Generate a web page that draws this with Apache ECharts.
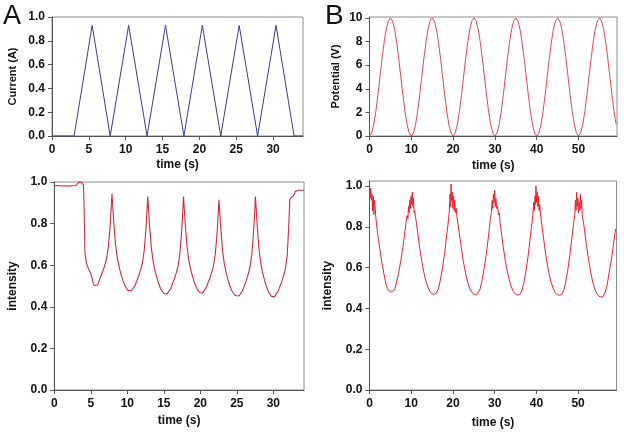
<!DOCTYPE html>
<html>
<head>
<meta charset="utf-8">
<script src="https://cdn.jsdelivr.net/npm/echarts@6/dist/echarts.min.js"></script>
<style>
html,body{margin:0;padding:0;background:#fff;}
#chart{width:624px;height:436px;}
</style>
</head>
<body>
<div id="chart"></div>
<script>
// ---- Panel A, top: current (A) vs time (s)
const tlTime = [0, 3, 5.45, 7.9, 10.4, 12.9, 15.4, 17.9, 20.4, 22.9, 25.4, 27.9, 30.4, 32.85, 34.1];
const tlCurrent = [0, 0, 0.93, 0, 0.93, 0, 0.93, 0, 0.93, 0, 0.93, 0, 0.93, 0, 0];

// ---- Panel B, top: potential (V) vs time (s)
const trTime = [0,0.5,1,1.5,2,2.5,3,3.5,4,4.5,5,5.5,6,6.5,7,7.5,8,8.5,9,9.5,
  10,10.5,11,11.5,12,12.5,13,13.5,14,14.5,15,15.5,16,16.5,17,17.5,18,18.5,19,19.5,
  20,20.5,21,21.5,22,22.5,23,23.5,24,24.5,25,25.5,26,26.5,27,27.5,28,28.5,29,29.5,
  30,30.5,31,31.5,32,32.5,33,33.5,34,34.5,35,35.5,36,36.5,37,37.5,38,38.5,39,39.5,
  40,40.5,41,41.5,42,42.5,43,43.5,44,44.5,45,45.5,46,46.5,47,47.5,48,48.5,49,49.5,
  50,50.5,51,51.5,52,52.5,53,53.5,54,54.5,55,55.5,56,56.5,57,57.5,58,58.5,59];
const trPotential = [0,0.25,0.95,2.05,3.45,5,6.55,7.95,9.05,9.75,10,9.75,9.05,7.95,6.55,5,3.45,2.05,0.95,0.25,
  0,0.25,0.95,2.05,3.45,5,6.55,7.95,9.05,9.75,10,9.75,9.05,7.95,6.55,5,3.45,2.05,0.95,0.25,
  0,0.25,0.95,2.05,3.45,5,6.55,7.95,9.05,9.75,10,9.75,9.05,7.95,6.55,5,3.45,2.05,0.95,0.25,
  0,0.25,0.95,2.05,3.45,5,6.55,7.95,9.05,9.75,10,9.75,9.05,7.95,6.55,5,3.45,2.05,0.95,0.25,
  0,0.25,0.95,2.05,3.45,5,6.55,7.95,9.05,9.75,10,9.75,9.05,7.95,6.55,5,3.45,2.05,0.95,0.25,
  0,0.25,0.95,2.05,3.45,5,6.55,7.95,9.05,9.75,10,9.75,9.05,7.95,6.55,5,3.45,2.05,1.0];

// ---- Panel A, bottom: intensity vs time (s)
const blTime = [0,0.5,1,1.5,2,2.5,3,3.15,3.3,3.5,3.75,3.9,4,4.1,4.2,4.4,4.6,4.8,5,5.1,5.2,5.3,5.45,5.7,5.95,
  6.15,6.4,6.65,6.9,7.15,7.4,7.65,7.9,
  8.15,8.4,8.65,8.9,9.15,9.4,9.65,9.9,10.1,10.3,
  10.55,10.8,11.05,11.3,11.55,11.8,12.05,12.3,12.55,12.8,
  13.05,13.3,13.55,13.8,14.05,14.3,14.55,14.8,15,15.2,
  15.45,15.7,15.95,16.2,16.45,16.7,16.95,17.2,17.45,17.7,
  17.95,18.2,18.45,18.7,18.95,19.2,19.45,19.7,19.9,20.1,
  20.3,20.55,20.8,21.05,21.3,21.55,21.8,22.05,22.3,22.55,
  22.8,23.05,23.3,23.55,23.8,24.05,24.3,24.55,24.8,25,
  25.3,25.55,25.8,26.05,26.3,26.55,26.8,27.05,27.3,27.55,
  27.8,28.05,28.3,28.55,28.8,29.05,29.3,29.55,29.75,29.9,
  30.15,30.4,30.65,30.9,31.15,31.4,31.65,31.9,32.1,32.25,32.4,32.6,32.8,33,33.2,33.5,33.75,34,34.2];
const blIntensity = [0.982,0.983,0.981,0.982,0.980,0.982,0.983,0.992,0.998,1.0,0.999,0.996,0.985,0.85,0.66,0.61,0.59,0.575,0.56,0.545,0.535,0.515,0.503,0.50,0.505,
  0.527,0.549,0.571,0.598,0.629,0.687,0.789,0.945,
  0.804,0.696,0.630,0.588,0.555,0.527,0.503,0.489,0.479,0.475,
  0.477,0.484,0.502,0.525,0.548,0.575,0.607,0.666,0.771,0.93,
  0.789,0.681,0.615,0.573,0.540,0.512,0.488,0.474,0.464,0.46,
  0.462,0.469,0.488,0.512,0.535,0.563,0.596,0.657,0.766,0.93,
  0.791,0.684,0.618,0.577,0.544,0.516,0.493,0.479,0.469,0.465,
  0.467,0.474,0.492,0.515,0.537,0.564,0.596,0.654,0.757,0.915,
  0.776,0.669,0.603,0.562,0.529,0.501,0.478,0.464,0.454,0.45,
  0.452,0.46,0.479,0.503,0.527,0.556,0.589,0.652,0.762,0.93,
  0.785,0.673,0.605,0.561,0.527,0.498,0.474,0.460,0.45,0.445,
  0.448,0.455,0.474,0.497,0.521,0.549,0.583,0.645,0.78,0.915,0.925,0.93,0.935,0.955,0.962,0.96,0.963,0.96,0.96];

// ---- Panel B, bottom: intensity vs time (s)
const brTime = [0,0.15,0.3,0.45,0.6,0.75,0.9,1.05,1.2,1.35,1.5,1.75,2,2.5,3,3.5,4,4.5,5,5.5,6,
  6.5,7,7.5,8,8.5,8.75,9,9.2,9.35,9.5,9.65,9.8,9.95,10.1,10.25,10.4,10.55,10.7,10.85,11,
  11.25,11.5,12,12.5,13,13.5,14,14.5,15,15.5,16,16.5,17,17.5,18,18.5,18.75,19,
  19.15,19.3,19.45,19.55,19.7,19.85,20,20.15,20.3,20.45,20.6,20.8,21,
  21.25,21.5,22,22.5,23,23.5,24,24.5,25,25.5,26,26.5,27,27.5,28,28.5,28.75,29,
  29.2,29.4,29.55,29.7,29.85,30,30.15,30.3,30.5,30.7,30.9,31.1,
  31.3,31.5,32,32.5,33,33.5,34,34.5,35,35.5,36,36.5,37,37.5,38,38.5,38.75,39,
  39.2,39.35,39.5,39.65,39.8,39.9,40.05,40.2,40.35,40.5,40.65,40.8,41,
  41.25,41.5,42,42.5,43,43.5,44,44.5,45,45.5,46,46.5,47,47.5,48,48.5,48.75,49,
  49.2,49.35,49.5,49.65,49.8,49.95,50.1,50.25,50.4,50.55,50.7,50.85,51,51.1,
  51.3,51.5,52,52.5,53,53.5,54,54.5,55,55.5,56,56.5,57,57.5,58,58.5,59];
const brIntensity = [0.975,0.94,0.99,0.93,0.96,0.88,0.95,0.86,0.93,0.90,0.85,0.80,0.76,0.69,0.62,0.565,0.515,0.49,0.482,0.483,0.49,
  0.53,0.576,0.635,0.70,0.78,0.82,0.855,0.84,0.90,0.87,0.93,0.89,0.95,0.91,0.97,0.90,0.94,0.87,0.88,0.85,
  0.82,0.78,0.70,0.635,0.58,0.535,0.505,0.483,0.472,0.47,0.476,0.495,0.54,0.60,0.67,0.76,0.80,0.85,
  0.88,0.96,0.90,1.01,0.93,0.97,0.89,0.95,0.88,0.93,0.87,0.89,0.84,
  0.81,0.77,0.70,0.63,0.575,0.53,0.50,0.48,0.47,0.468,0.475,0.495,0.54,0.60,0.67,0.75,0.80,0.84,
  0.87,0.93,0.89,0.96,0.92,0.98,0.90,0.94,0.89,0.90,0.86,0.87,
  0.82,0.79,0.71,0.64,0.585,0.54,0.505,0.482,0.47,0.465,0.468,0.485,0.525,0.585,0.655,0.74,0.79,0.83,
  0.87,0.92,0.88,0.95,0.91,1.0,0.92,0.97,0.90,0.95,0.88,0.91,0.86,
  0.82,0.78,0.70,0.63,0.575,0.53,0.50,0.478,0.468,0.465,0.468,0.485,0.525,0.585,0.66,0.745,0.79,0.83,
  0.86,0.93,0.88,0.97,0.90,0.94,0.87,0.92,0.88,0.96,0.89,0.93,0.86,0.84,
  0.82,0.79,0.71,0.64,0.58,0.53,0.495,0.472,0.46,0.455,0.46,0.48,0.52,0.585,0.64,0.72,0.79];

// ---- tick labels
const xTicksA = [0, 5, 10, 15, 20, 25, 30];
const xTicksB = [0, 10, 20, 30, 40, 50];
const yTicksFrac = [0, 0.2, 0.4, 0.6, 0.8, 1.0];
const yTicksPot = [0, 2, 4, 6, 8, 10];

function zip(a, b) { return a.map((t, i) => [t, b[i]]); }

const FONT = '"Liberation Sans", Arial, sans-serif';
const axisCol = '#555';

function xAxis(gi, max, ticks, nameGap) {
  return {
    type: 'value', gridIndex: gi, min: 0, max: max,
    name: 'time (s)', nameLocation: 'middle', nameGap: nameGap,
    nameTextStyle: { fontFamily: FONT, fontWeight: 'bold', fontSize: 12, color: '#111' },
    axisLine: { show: true, onZero: false, lineStyle: { color: axisCol, width: 1 } },
    axisTick: { show: true, inside: false, length: 4, customValues: ticks, lineStyle: { color: axisCol } },
    axisLabel: { customValues: ticks, margin: 8, fontFamily: FONT, fontWeight: 'bold', fontSize: 12, color: '#111' },
    splitLine: { show: false }
  };
}
function yAxis(gi, max, ticks, name, nameSize, nameGap, dec) {
  return {
    type: 'value', gridIndex: gi, min: 0, max: max,
    name: name, nameLocation: 'middle', nameGap: nameGap, nameRotate: 90,
    nameTextStyle: { fontFamily: FONT, fontWeight: 'bold', fontSize: nameSize, color: '#111' },
    axisLine: { show: true, onZero: false, lineStyle: { color: axisCol, width: 1 } },
    axisTick: { show: true, inside: false, length: 4, customValues: ticks, lineStyle: { color: axisCol } },
    axisLabel: { customValues: ticks, margin: 7, fontFamily: FONT, fontWeight: 'bold', fontSize: 12, color: '#111',
      formatter: v => v.toFixed(dec) },
    splitLine: { show: false }
  };
}
function line(gi, data, color, w) {
  return {
    type: 'line', xAxisIndex: gi, yAxisIndex: gi, data: data, showSymbol: false, symbol: 'none',
    lineStyle: { color: color, width: w }, animation: false, silent: true, clip: true
  };
}

const chart = echarts.init(document.getElementById('chart'), null, { renderer: 'canvas' });
chart.setOption({
  backgroundColor: '#fff',
  animation: false,
  grid: [
    { left: 52, top: 17, width: 251, height: 119, show: true, borderColor: '#8c8c8c', borderWidth: 1, backgroundColor: 'transparent' },
    { left: 369.5, top: 17, width: 247.5, height: 119, show: true, borderColor: '#8c8c8c', borderWidth: 1, backgroundColor: 'transparent' },
    { left: 54.3, top: 182, width: 249.7, height: 208, show: true, borderColor: '#8c8c8c', borderWidth: 1, backgroundColor: 'transparent' },
    { left: 369.5, top: 181, width: 247, height: 209, show: true, borderColor: '#8c8c8c', borderWidth: 1, backgroundColor: 'transparent' }
  ],
  xAxis: [
    xAxis(0, 34.06, xTicksA, 23),
    xAxis(1, 59.2, xTicksB, 24),
    xAxis(2, 34.2, xTicksA, 25),
    xAxis(3, 59.2, xTicksB, 27)
  ],
  yAxis: [
    yAxis(0, 1.0, yTicksFrac, 'Current (A)', 11, 34, 1),
    yAxis(1, 10.08, yTicksPot, 'Potential (V)', 11, 28, 0),
    yAxis(2, 1.0, yTicksFrac, 'intensity', 12, 36, 1),
    yAxis(3, 1.025, yTicksFrac, 'intensity', 12, 36, 1)
  ],
  series: [
    line(0, zip(tlTime, tlCurrent), '#3a3a9c', 1),
    line(1, zip(trTime, trPotential), '#e04656', 1),
    line(2, zip(blTime, blIntensity), '#cf2a3a', 1.1),
    line(3, zip(brTime, brIntensity), '#e8222e', 1)
  ],
  graphic: [
    { type: 'text', left: 3, top: 3, style: { text: 'A', fontFamily: FONT, fontSize: 27, fill: '#111' } },
    { type: 'text', left: 325, top: 2, style: { text: 'B', fontFamily: FONT, fontSize: 28, fill: '#111' } }
  ]
});
</script>
</body>
</html>
